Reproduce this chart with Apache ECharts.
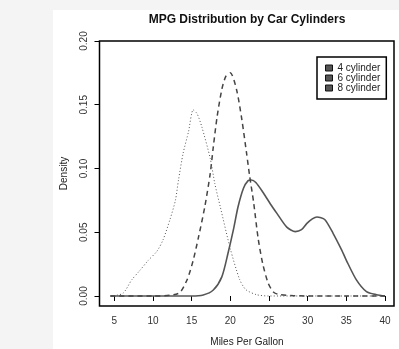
<!DOCTYPE html>
<html>
<head>
<meta charset="utf-8">
<script src="https://cdn.jsdelivr.net/npm/echarts@6/dist/echarts.min.js"></script>
<style>
html,body{margin:0;padding:0;background:#f4f4f4;}
#wrap{position:absolute;left:0;top:0;width:399px;height:349px;}
#panel{position:absolute;left:53px;top:10px;width:346px;height:339px;background:#fff;}
#chart{position:absolute;left:0;top:0;width:399px;height:349px;}
</style>
</head>
<body>
<div id="wrap"><div id="panel"></div><div id="chart"></div></div>
<script>
const chartTitle = 'MPG Distribution by Car Cylinders';
const xTitle = 'Miles Per Gallon';
const yTitle = 'Density';
const seriesNames = ['4 cylinder', '6 cylinder', '8 cylinder'];
const xTicks = [5, 10, 15, 20, 25, 30, 35, 40];
const yTicks = [0, 0.05, 0.10, 0.15, 0.20];

// 4 cylinder (solid)
const mpg4 = [4.5, 10, 15, 16.5, 17.8, 18.9, 19.7, 20.4, 21.0, 21.7, 22.3, 22.7, 23.3, 24.3, 25.2, 26.0, 27.3, 28.4, 29.2, 29.9, 30.6, 31.2, 32.2, 33.3, 34.4, 35.0, 36.3, 37.6, 38.9, 40.0];
const dens4 = [0, 0, 0, 0.0008, 0.0047, 0.015, 0.0335, 0.052, 0.070, 0.0845, 0.0905, 0.091, 0.089, 0.0806, 0.072, 0.065, 0.054, 0.0505, 0.052, 0.057, 0.0605, 0.062, 0.060, 0.049, 0.036, 0.028, 0.0126, 0.0034, 0.001, 0];

// 6 cylinder (dashed)
const mpg6 = [4.5, 10, 13.3, 14.4, 15.2, 15.9, 16.7, 17.4, 17.8, 18.3, 18.9, 19.4, 20.0, 20.8, 21.5, 22.1, 22.5, 23.0, 23.6, 24.2, 24.9, 25.6, 26.4, 30, 35, 40.0];
const dens6 = [0, 0, 0.002, 0.0126, 0.028, 0.0465, 0.070, 0.096, 0.117, 0.141, 0.162, 0.172, 0.175, 0.162, 0.138, 0.112, 0.094, 0.074, 0.045, 0.025, 0.010, 0.003, 0.001, 0, 0, 0];

// 8 cylinder (dotted)
const mpg8 = [4.5, 6.1, 7.25, 8.3, 9.4, 10.5, 11.3, 12.2, 12.9, 13.3, 13.9, 14.6, 15.2, 15.7, 16.3, 17.4, 18.0, 18.7, 20.0, 21.2, 22.0, 23.4, 25, 30, 35, 40.0];
const dens8 = [0, 0.002, 0.0126, 0.020, 0.028, 0.035, 0.044, 0.060, 0.075, 0.091, 0.112, 0.129, 0.146, 0.143, 0.133, 0.108, 0.088, 0.070, 0.037, 0.013, 0.005, 0.001, 0, 0, 0, 0];

function pairs(xs, ys) { return xs.map((x, i) => [x, ys[i]]); }

const chart = echarts.init(document.getElementById('chart'), null, {renderer: 'canvas'});
const font = 'Liberation Sans, Arial, Helvetica, sans-serif';

chart.setOption({
  backgroundColor: 'transparent',
  animation: false,
  textStyle: {fontFamily: font},
  grid: {left: 99.5, right: 5, top: 41, bottom: 43, containLabel: false,
    show: true, borderColor: '#000', borderWidth: 1.5, backgroundColor: 'transparent'},
  xAxis: {
    type: 'value', min: 3.087, max: 41.16,
    splitLine: {show: false},
    axisLine: {show: false},
    axisTick: {show: true, length: 5, customValues: xTicks, lineStyle: {color: '#000', width: 1}},
    axisLabel: {color: '#333', fontSize: 10, margin: 10, fontFamily: font, customValues: xTicks,
      showMinLabel: true, showMaxLabel: true},
  },
  yAxis: {
    type: 'value', min: -0.00785, max: 0.2,
    splitLine: {show: false},
    axisLine: {show: false},
    axisTick: {show: true, length: 5, customValues: yTicks, lineStyle: {color: '#000', width: 1}},
    axisLabel: {color: '#333', fontSize: 10, margin: 10, rotate: 90, fontFamily: font, customValues: yTicks,
      showMinLabel: true, showMaxLabel: true,
      formatter: v => v.toFixed(2)},
  },
  legend: {
    orient: 'vertical',
    left: 317, top: 57,
    width: 62,
    padding: [6, 6, 6, 8],
    itemGap: 0,
    itemWidth: 7, itemHeight: 6,
    icon: 'rect',
    borderColor: '#000', borderWidth: 1.5,
    backgroundColor: '#fff',
    itemStyle: {color: '#555', borderColor: '#111', borderWidth: 1},
    textStyle: {fontSize: 10, color: '#222', lineHeight: 10, fontFamily: font},
    data: seriesNames,
    selectedMode: false
  },
  series: [
    {name: seriesNames[0], type: 'line', data: pairs(mpg4, dens4), showSymbol: false, smooth: 0.25,
      lineStyle: {color: '#555', width: 1.6, type: 'solid'}, itemStyle: {color: '#555'}},
    {name: seriesNames[1], type: 'line', data: pairs(mpg6, dens6), showSymbol: false, smooth: 0.25,
      lineStyle: {color: '#444', width: 1.5, type: [5, 4]}, itemStyle: {color: '#444'}},
    {name: seriesNames[2], type: 'line', data: pairs(mpg8, dens8), showSymbol: false, smooth: 0.25,
      lineStyle: {color: '#555', width: 1, type: [1, 2.2]}, itemStyle: {color: '#555'}}
  ],
  graphic: [
    {type: 'text', z: 100, x: 247, y: 20,
      style: {text: chartTitle, font: 'bold 12px ' + font, fill: '#111', align: 'center', verticalAlign: 'middle'}},
    {type: 'text', z: 100, x: 247, y: 342,
      style: {text: xTitle, font: '10px ' + font, fill: '#222', align: 'center', verticalAlign: 'middle'}},
    {type: 'text', z: 100, x: 64, y: 173.5, rotation: Math.PI / 2,
      style: {text: yTitle, font: '10px ' + font, fill: '#222', align: 'center', verticalAlign: 'middle'}}
  ]
});
</script>
</body>
</html>
